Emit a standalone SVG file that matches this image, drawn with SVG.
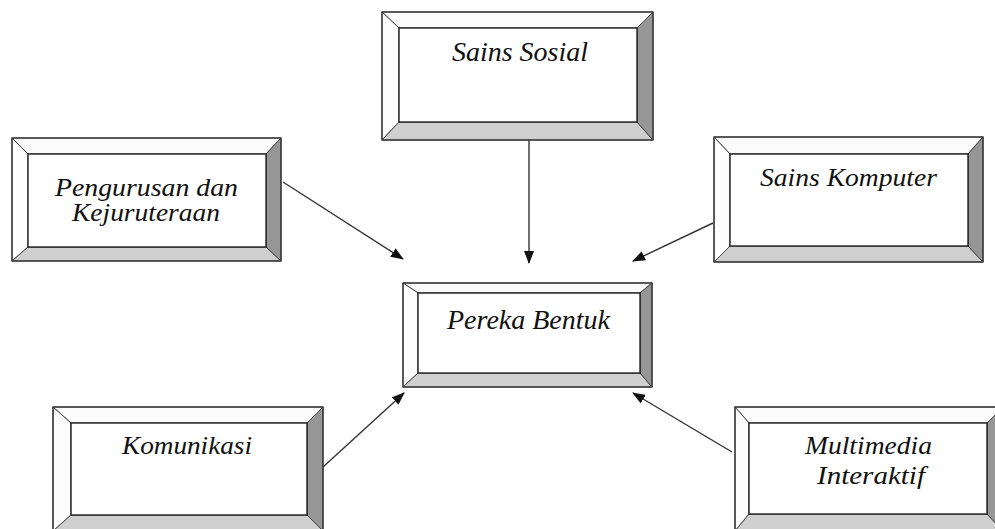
<svg xmlns="http://www.w3.org/2000/svg" width="995" height="529" viewBox="0 0 995 529">
<style>
.bg{fill:#fff}
.top{fill:#fbfbfb;stroke:#444;stroke-width:1}
.left{fill:#fdfdfd;stroke:#444;stroke-width:1}
.bot{fill:#cfcfcf;stroke:#444;stroke-width:1}
.right{fill:#969696;stroke:#444;stroke-width:1}
.face{fill:#fff;stroke:#111;stroke-width:1.3}
.outer{fill:none;stroke:#333;stroke-width:1.3}
.lbl{font-family:"Liberation Serif","Times New Roman",serif;font-style:italic;fill:#111}
.conn{stroke:#333;stroke-width:1.4;fill:none}
</style>
<defs>
<marker id="ah" markerUnits="userSpaceOnUse" markerWidth="14" markerHeight="10" refX="12" refY="5" orient="auto">
<path d="M0,0 L13,5 L0,10 z" fill="#111"/>
</marker>
</defs>
<rect class="bg" width="995" height="529"/>

<g id="sains-sosial">
<polygon class="top" points="382,12 653,12 637,28 399,28"/>
<polygon class="left" points="382,12 399,28 399,122 382,140"/>
<polygon class="bot" points="382,140 399,122 637,122 653,140"/>
<polygon class="right" points="653,12 653,140 637,122 637,28"/>
<rect class="face" x="399" y="28" width="238" height="94"/>
<rect class="outer" x="382" y="12" width="271" height="128"/>
<text class="lbl" x="452" y="61" font-size="27" textLength="136" lengthAdjust="spacingAndGlyphs">Sains Sosial</text>
</g>

<g id="pengurusan">
<polygon class="top" points="12,138 281,138 266,154 28,154"/>
<polygon class="left" points="12,138 28,154 28,247 12,261"/>
<polygon class="bot" points="12,261 28,247 266,247 281,261"/>
<polygon class="right" points="281,138 281,261 266,247 266,154"/>
<rect class="face" x="28" y="154" width="238" height="93"/>
<rect class="outer" x="12" y="138" width="269" height="123"/>
<text class="lbl" x="55" y="196" font-size="25" textLength="183" lengthAdjust="spacingAndGlyphs">Pengurusan dan</text>
<text class="lbl" x="72" y="221" font-size="25" textLength="148" lengthAdjust="spacingAndGlyphs">Kejuruteraan</text>
</g>

<g id="pereka-bentuk">
<polygon class="top" points="403,283 652,283 640,293 418,293"/>
<polygon class="left" points="403,283 418,293 418,373 403,387"/>
<polygon class="bot" points="403,387 418,373 640,373 652,387"/>
<polygon class="right" points="652,283 652,387 640,373 640,293"/>
<rect class="face" x="418" y="293" width="222" height="80"/>
<rect class="outer" x="403" y="283" width="249" height="104"/>
<text class="lbl" x="447" y="329" font-size="27" textLength="163" lengthAdjust="spacingAndGlyphs">Pereka Bentuk</text>
</g>

<g id="sains-komputer">
<polygon class="top" points="714,137 983,137 968,154 730,154"/>
<polygon class="left" points="714,137 730,154 730,246 714,262"/>
<polygon class="bot" points="714,262 730,246 968,246 983,262"/>
<polygon class="right" points="983,137 983,262 968,246 968,154"/>
<rect class="face" x="730" y="154" width="238" height="92"/>
<rect class="outer" x="714" y="137" width="269" height="125"/>
<text class="lbl" x="760" y="186" font-size="26" textLength="177" lengthAdjust="spacingAndGlyphs">Sains Komputer</text>
</g>

<g id="komunikasi">
<polygon class="top" points="53,407 323,407 307,423 71,423"/>
<polygon class="left" points="53,407 71,423 71,515 53,531"/>
<polygon class="bot" points="53,531 71,515 307,515 323,531"/>
<polygon class="right" points="323,407 323,531 307,515 307,423"/>
<rect class="face" x="71" y="423" width="236" height="92"/>
<rect class="outer" x="53" y="407" width="270" height="124"/>
<text class="lbl" x="122" y="454" font-size="26" textLength="130" lengthAdjust="spacingAndGlyphs">Komunikasi</text>
</g>

<g id="multimedia">
<polygon class="top" points="735,407 1003,407 987,423 749,423"/>
<polygon class="left" points="735,407 749,423 749,514 735,531"/>
<polygon class="bot" points="735,531 749,514 987,514 1003,531"/>
<polygon class="right" points="1003,407 1003,531 987,514 987,423"/>
<rect class="face" x="749" y="423" width="238" height="91"/>
<rect class="outer" x="735" y="407" width="268" height="124"/>
<text class="lbl" x="805" y="454" font-size="26" textLength="127" lengthAdjust="spacingAndGlyphs">Multimedia</text>
<text class="lbl" x="817" y="484" font-size="26" textLength="108" lengthAdjust="spacingAndGlyphs">Interaktif</text>
</g>

<g id="connectors">
<line class="conn" x1="529" y1="140" x2="529" y2="263" marker-end="url(#ah)"/>
<line class="conn" x1="283" y1="182" x2="403" y2="259" marker-end="url(#ah)"/>
<line class="conn" x1="713" y1="223" x2="633" y2="261" marker-end="url(#ah)"/>
<line class="conn" x1="323" y1="467" x2="404" y2="393" marker-end="url(#ah)"/>
<line class="conn" x1="732" y1="452" x2="633" y2="393" marker-end="url(#ah)"/>
</g>
</svg>
